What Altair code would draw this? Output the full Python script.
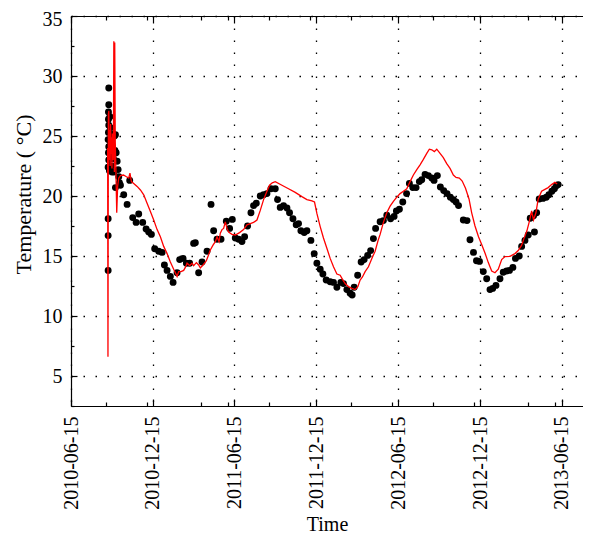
import altair as alt
import pandas as pd

START = "2010-06-15"

# measured temperature (dots): days since START, degC
dot_days = [83.0, 83.0, 83.0, 84.4, 84.4, 83.7, 83.7, 84.4, 83.7, 83.0, 84.4, 83.7, 84.4, 83.0,
            85.9, 87.0, 88.1, 88.1, 89.3, 90.4, 91.5, 92.6, 93.7, 94.8, 96.0, 97.1, 98.2, 99.3,
            100.9, 103.1, 105.3, 106.7, 108.2, 99.3, 110.5, 117.8, 125.4, 131.2,
            137.9, 145.5, 151.3, 160.2, 167.8, 173.6, 179.6, 187.0, 195.9, 203.5, 208.7, 214.7,
            222.0, 228.1, 237.0, 242.8, 250.4, 257.8, 265.1, 274.0, 277.8, 285.2, 292.8, 303.9,
            312.9, 318.7, 326.3, 335.2, 347.0, 354.4, 360.4, 367.1, 374.5, 382.0, 387.9, 394.5,
            402.1, 407.9, 414.0, 422.9, 430.3, 437.8, 446.8, 456.4, 461.5, 467.5, 474.9, 482.5,
            488.3, 495.9, 503.2, 508.4, 513.7, 521.1, 527.1, 536.0, 543.4, 549.4, 556.8, 562.8,
            570.2, 579.1, 586.5, 594.1, 603.0, 608.8, 616.4, 623.7, 628.2, 632.7, 640.5, 648.3,
            655.0, 662.8, 669.5, 675.7, 680.6, 690.7, 698.0, 705.6, 714.1, 721.9, 727.1, 733.8,
            741.3, 749.8, 756.1, 763.7, 771.0, 778.4, 783.7, 791.1, 798.5, 806.1, 811.2, 818.6,
            825.3, 832.8, 840.2, 847.6, 854.3, 860.3, 865.9, 876.6, 884.8, 891.5, 899.3, 906.0,
            912.7, 921.2, 928.8, 936.2, 942.2, 949.5, 958.5, 965.8, 973.4, 979.7, 987.3, 993.1,
            1001.5, 1006.9, 1014.3, 1021.6, 1026.1, 1033.5, 1035.5, 1040.4, 1046.2, 1054.4,
            1062.0, 1067.8, 1074.5, 1080.1, 1084.6, 1088.6]
dot_temp = [18.1, 16.7, 13.8, 29.0, 27.6, 27.0, 26.4, 25.9, 25.3, 24.7, 24.1, 23.6, 23.0, 22.4,
            22.1, 26.6, 25.7, 24.5, 23.4, 22.5, 22.0, 24.0, 25.2, 23.1, 22.0, 25.0, 23.8, 25.1,
            23.6, 22.9, 22.2, 21.6, 21.1, 20.7, 20.9, 20.1, 19.3, 21.3,
            18.2, 17.8, 18.5, 17.8, 17.25, 17.0, 16.8, 15.6, 15.4, 15.3, 14.25, 13.8,
            13.3, 12.8, 13.6, 14.7, 14.8, 14.4, 14.4, 16.05, 16.1, 13.6, 14.5, 15.4,
            19.3, 17.1, 16.4, 16.4, 17.9, 17.3, 18.05, 16.5, 16.4, 16.2, 16.6, 17.5,
            18.6, 19.2, 19.4, 20.0, 20.1, 20.2, 20.6, 20.6, 19.7, 19.05, 19.2, 19.0,
            18.6, 18.1, 17.6, 17.7, 17.1, 16.95, 17.1, 16.3, 15.2, 14.4, 13.9, 13.5,
            13.0, 12.85, 12.8, 12.4, 12.8, 12.7, 12.2, 11.9, 11.75, 12.4, 13.4, 14.5,
            14.7, 15.05, 15.45, 16.45, 17.3, 17.85, 17.95, 18.4, 18.1, 18.3, 18.75, 18.9,
            19.5, 20.2, 21.05, 20.7, 20.7, 21.2, 21.35, 21.8, 21.7, 21.5, 21.3, 21.7,
            20.75, 20.45, 20.2, 19.9, 19.7, 19.5, 19.2, 18.0, 17.95, 16.35, 15.3, 14.6,
            14.55, 13.7, 13.1, 12.2, 12.3, 12.55, 13.1, 13.65, 13.75, 13.8, 14.05, 14.8,
            15.0, 15.8, 16.3, 16.75, 18.15, 18.35, 17.0, 18.6, 19.75, 19.8,
            19.9, 20.1, 20.4, 20.6, 20.85, 20.95]

# modelled temperature (red line): days since START, degC
line_days = [81.9, 82.6, 83.5, 84.6, 85.5, 86.6, 87.5, 88.6, 89.5, 90.6, 91.5, 92.6, 93.7, 94.8,
             95.7, 96.9, 97.7, 98.9, 100.4, 102.2, 104.2, 106.7, 110.5, 117.2, 123.9, 129.0,
             131.7, 135.0, 140.1, 147.7, 155.1, 162.5, 170.0, 177.4, 184.8, 192.4, 199.7, 207.1,
             214.7, 222.0, 229.4, 237.0, 240.6, 245.9, 251.7, 255.5, 259.3, 265.1, 270.5, 274.0,
             280.1, 285.2, 289.0, 295.0, 302.4, 307.5, 311.3, 317.3, 322.5, 326.3, 330.7, 333.6,
             337.4, 341.0, 344.8, 348.6, 352.1, 359.7, 367.1, 376.7, 385.6, 393.2, 400.6, 407.9,
             415.5, 422.9, 430.3, 437.8, 443.6, 449.7, 456.4, 471.3, 486.0, 501.0, 515.9, 527.1,
             538.3, 544.1, 549.4, 556.8, 564.1, 571.7, 579.1, 586.5, 594.1, 601.4, 606.6, 612.6,
             619.9, 627.5, 634.9, 640.9, 646.0, 651.2, 657.2, 664.6, 672.2, 679.5, 686.2, 690.7,
             698.0, 705.6, 713.0, 720.4, 727.9, 735.3, 742.7, 750.3, 753.8, 757.6, 765.0, 772.6,
             779.9, 787.3, 794.9, 800.7, 806.1, 811.8, 817.2, 824.6, 831.9, 839.5, 846.9, 854.3,
             860.3, 867.7, 874.1, 881.5, 889.3, 895.3, 902.7, 910.5, 917.6, 925.0, 932.4, 940.0,
             947.3, 954.7, 962.3, 969.6, 980.8, 992.0, 999.3, 1006.9, 1012.0, 1018.7, 1024.3,
             1029.2, 1033.5, 1038.8, 1043.9, 1051.5, 1058.9, 1066.2, 1073.8, 1081.2, 1086.3]
line_temp = [24.0, 6.6, 26.8, 27.1, 23.0, 25.5, 22.5, 26.0, 23.5, 24.8, 22.3, 25.2, 23.0, 24.5,
             32.9, 22.0, 32.8, 24.5, 22.0, 18.6, 20.8, 21.5, 21.7, 21.75, 21.6, 21.5,
             21.9, 21.2, 21.05, 20.8, 20.5, 20.1, 19.4, 18.7, 18.0, 17.2, 16.6, 15.8,
             15.2, 14.5, 13.9, 13.3, 13.7, 13.7, 13.8, 14.05, 14.4, 14.2, 14.4, 14.2,
             14.45, 14.25, 14.0, 14.25, 14.6, 15.1, 15.5, 15.9, 16.2, 16.6, 16.2, 16.9,
             17.2, 17.3, 17.85, 17.3, 17.0, 16.8, 16.75, 16.95, 17.2, 17.6, 17.7, 17.8,
             18.0, 18.8, 19.7, 20.4, 20.9, 21.1, 21.2, 20.9, 20.6, 20.3, 19.95, 19.7,
             19.6, 19.5, 18.55, 17.45, 16.5, 15.65, 14.8, 14.1, 13.5, 13.4, 13.05, 12.7,
             12.45, 12.3, 12.2, 12.45, 13.0, 13.25, 13.7, 14.1, 14.8, 15.4, 16.3, 16.8,
             17.8, 18.6, 19.15, 19.55, 19.9, 20.2, 20.4, 20.6, 20.9, 21.2, 21.75, 22.2,
             22.6, 23.05, 23.55, 23.9, 23.85, 23.7, 23.9, 23.55, 23.2, 22.7, 22.3, 21.75,
             21.55, 21.5, 21.25, 20.65, 19.75, 18.6, 17.5, 16.6, 15.95, 15.25, 14.45, 13.75,
             13.6, 13.9, 14.7, 14.95, 14.97, 15.2, 15.45, 15.9, 16.45, 17.1, 17.9,
             18.75, 18.0, 18.6, 19.75, 20.4, 20.55, 20.7, 20.95, 21.15, 21.0]

major_dates = [(2010, 6, 15), (2010, 12, 15), (2011, 6, 15), (2011, 12, 15),
               (2012, 6, 15), (2012, 12, 15), (2013, 6, 15)]
minor_dates = [(2010, 9, 1), (2010, 12, 1), (2011, 4, 1), (2011, 6, 1), (2011, 9, 1),
               (2011, 12, 1), (2012, 3, 1), (2012, 6, 1), (2012, 9, 1), (2012, 12, 1),
               (2013, 4, 1), (2013, 6, 1)]
x_domain = [(2010, 6, 15), (2013, 8, 2)]
y_major = [5, 10, 15, 20, 25, 30, 35]
y_labels_low = [5, 10, 15, 20, 25, 30]
y_labels_top = [35]
y_minor = [2.5, 7.5, 12.5, 17.5, 22.5, 27.5, 32.5]
y_domain = [2.5, 35]

W, H = 512, 390
FONT = "Liberation Serif"


def iso(days):
    ts = pd.Timestamp(START) + pd.to_timedelta(days, unit="D")
    return [t.strftime("%Y-%m-%dT%H:%M:%SZ") for t in ts]


def dt(t):
    return alt.DateTime(year=t[0], month=t[1], date=t[2], utc=True)


dots = pd.DataFrame({"date": iso(dot_days), "temp": dot_temp})
line = pd.DataFrame({"date": iso(line_days), "temp": line_temp})

xscale = alt.Scale(type="utc", domain=[dt(t) for t in x_domain], nice=False)
yscale = alt.Scale(domain=y_domain, nice=False, zero=False)

major_v = [dt(t) for t in major_dates]
minor_v = [dt(t) for t in minor_dates]

x_main = alt.Axis(orient="bottom", values=major_v,
                  labelExpr="utcFormat(datum.value, '%Y-%m-%d')",
                  labelAngle=270, labelPadding=10, labelFlush=False, labelOverlap=False,
                  labelFont=FONT, labelFontSize=20, labelColor="black",
                  ticks=False, domain=True, domainColor="black", domainWidth=1.2,
                  grid=True, gridColor="black", gridDash=[1.5, 10.5], gridWidth=1.3,
                  title="Time", titleFont=FONT, titleFontSize=20, titleFontWeight="normal",
                  titleColor="black", titlePadding=5)
y_main = alt.Axis(orient="left", values=y_labels_low, labelPadding=9, labelFont=FONT,
                  labelFontSize=20, labelColor="black", labelFlush=False,
                  ticks=False, domain=True, domainColor="black", domainWidth=1.2,
                  grid=True, gridColor="black", gridDash=[1.5, 10.5], gridWidth=1.3,
                  title="Temperature ( °C)", titleFont=FONT, titleFontSize=22,
                  titleFontWeight="normal", titleColor="black", titlePadding=7,
                  titleY=178)
y_top_label = alt.Axis(orient="left", values=y_labels_top, labelPadding=9, labelFont=FONT,
                       labelFontSize=20, labelColor="black", labelFlush=False,
                       labelOffset=3, ticks=False, domain=False, grid=True,
                       gridColor="black", gridDash=[1.5, 10.5], gridWidth=1.3, title=None)


def tick_axis(orient, offset, values, size, domain=False):
    return alt.Axis(orient=orient, offset=offset, values=values, labels=False, grid=False,
                    domain=domain, domainColor="black", domainWidth=1.2,
                    ticks=True, tickSize=size, tickColor="black", tickWidth=1.2, title=None)


def enc(chart, xaxis, yaxis):
    return chart.encode(
        x=alt.X("date:T", scale=xscale, axis=xaxis),
        y=alt.Y("temp:Q", scale=yscale, axis=yaxis),
    )


l_dots = enc(alt.Chart(dots).mark_circle(size=48, color="black", opacity=1),
             x_main, y_main)
l_line = enc(alt.Chart(line).mark_line(color="#ff0000", strokeWidth=1.3),
             tick_axis("top", -H, major_v, 7), tick_axis("right", -W, y_major, 6))
l_a = enc(alt.Chart(dots).mark_point(opacity=0),
          tick_axis("top", -H, minor_v, 4), tick_axis("right", -W, y_minor, 3))
l_b = enc(alt.Chart(dots).mark_point(opacity=0),
          tick_axis("bottom", -H, major_v, 7, domain=True), y_top_label)
l_c = enc(alt.Chart(dots).mark_point(opacity=0),
          tick_axis("bottom", -H, minor_v, 4), None)

chart = (
    alt.layer(l_dots, l_line, l_a, l_b, l_c)
    .resolve_axis(x="independent", y="independent")
    .properties(width=W, height=H, autosize=alt.AutoSizeParams(type="none"),
                padding={"left": 63, "top": 8, "right": 0, "bottom": 128},
                background="white")
    .configure_view(strokeWidth=0)
)

chart.save("out.html", embed_options={"renderer": "svg", "actions": False})
